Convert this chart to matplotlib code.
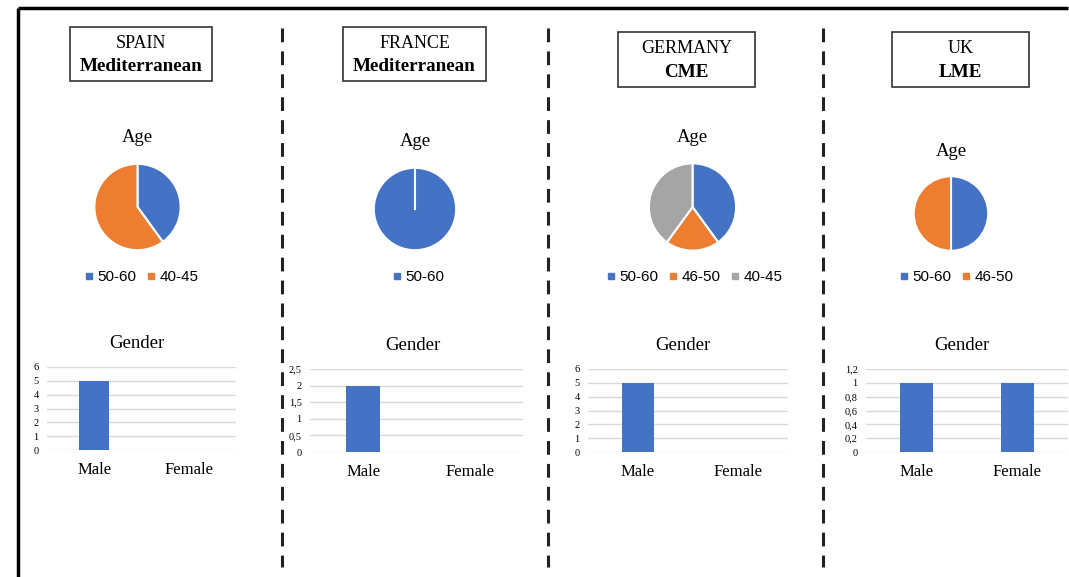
import matplotlib.pyplot as plt
import numpy as np
from matplotlib.patches import Rectangle
from matplotlib.lines import Line2D

# --- data ---
countries = ['SPAIN', 'FRANCE', 'GERMANY', 'UK']
regimes = ['Mediterranean', 'Mediterranean', 'CME', 'LME']
age_labels = [['50-60', '40-45'], ['50-60'], ['50-60', '46-50', '40-45'], ['50-60', '46-50']]
age_counts = [[2, 3], [2], [2, 1, 2], [1, 1]]
gender_labels = ['Male', 'Female']
gender_counts = [[5, 0], [2, 0], [5, 0], [1, 1]]
gender_ticks = [[0, 1, 2, 3, 4, 5, 6],
                [0, 0.5, 1, 1.5, 2, 2.5],
                [0, 1, 2, 3, 4, 5, 6],
                [0, 0.2, 0.4, 0.6, 0.8, 1, 1.2]]

# --- layout (pixels) ---
W, H = 1069, 577
age_colors = {'50-60': '#4472C4', '46-50': '#ED7D31', '40-45': '#ED7D31'}
age_colors_de = ['#4472C4', '#ED7D31', '#A5A5A5']
BLUE = '#4472C4'
SERIF = 'Liberation Serif'
SANS = 'Liberation Sans'

boxes = [(70, 27, 142, 54), (343, 27, 143, 54), (618, 32, 137, 55), (892, 32, 137, 55)]
pies = [(137.5, 207, 44), (415, 209, 42), (692.5, 207, 44.5), (951, 213.5, 38)]
age_title_y = [138, 142, 138, 152]
legend_x = [142, 419, 695, 957]
gender_title = [(137, 343), (413, 346), (683, 346), (962, 346)]
bar_rects = [(47, 367, 236, 450), (310, 369, 523, 452), (588, 369, 788, 452), (866, 369, 1068, 452)]
dividers = [282, 548, 823]

fig = plt.figure(figsize=(W / 100, H / 100), dpi=100)
bg = fig.add_axes([0, 0, 1, 1])
bg.set_xlim(0, W)
bg.set_ylim(H, 0)
bg.axis('off')


def frac(x0, y0, x1, y1):
    return [x0 / W, 1 - y1 / H, (x1 - x0) / W, (y1 - y0) / H]


# outer frame
bg.plot([18, 1068], [8, 8], color='black', lw=2.5, solid_capstyle='butt')
bg.plot([18, 18], [8, H], color='black', lw=2.5, solid_capstyle='butt')
for x in dividers:
    bg.plot([x, x], [28, 567], color='#222222', lw=2.2, ls=(0, (4.5, 3.0)))

for i in range(4):
    # title box
    bx, by, bw, bh = boxes[i]
    bg.add_patch(Rectangle((bx, by), bw, bh, fill=False, ec='#333333', lw=1.2))
    cx = bx + bw / 2
    bg.text(cx, by + bh * 0.3, countries[i], ha='center', va='center',
            family=SERIF, fontsize=13)
    bg.text(cx, by + bh * 0.74, regimes[i], ha='center', va='center',
            family=SERIF, fontsize=13.8, fontweight='bold')

    # pie
    pcx, pcy, r = pies[i]
    bg.text(pcx, age_title_y[i], 'Age', ha='center', va='center', family=SERIF, fontsize=13.5)
    ax = fig.add_axes(frac(pcx - r, pcy - r, pcx + r, pcy + r))
    if i == 2:
        cols = age_colors_de
    else:
        cols = [age_colors[l] for l in age_labels[i]]
    wedges, _ = ax.pie(age_counts[i], colors=cols, startangle=90, counterclock=False,
                       wedgeprops=dict(edgecolor='white', linewidth=1.5))
    if len(age_counts[i]) == 1:
        ax.plot([0, 0], [0, 1], color='white', lw=1.5)
    ax.set_xlim(-1.02, 1.02)
    ax.set_ylim(-1.02, 1.02)
    ax.set_aspect('equal')
    ax.axis('off')

    # legend
    handles = [Line2D([], [], marker='s', ls='', color=c, markersize=5) for c in cols]
    fig.legend(handles, age_labels[i], loc='center', ncol=len(cols),
               bbox_to_anchor=(legend_x[i] / W, 1 - 277 / H), frameon=False,
               prop=dict(family=SANS, size=11), handlelength=0.5, handletextpad=0.3,
               columnspacing=0.7)

    # bar chart
    gx, gy = gender_title[i]
    bg.text(gx, gy, 'Gender', ha='center', va='center', family=SERIF, fontsize=13.5)
    x0, y0, x1, y1 = bar_rects[i]
    bax = fig.add_axes(frac(x0, y0, x1, y1))
    bax.bar(range(len(gender_labels)), gender_counts[i], width=0.32, color=BLUE, zorder=3)
    ticks = gender_ticks[i]
    bax.set_ylim(0, ticks[-1])
    bax.set_xlim(-0.5, 1.5)
    bax.set_yticks(ticks)
    bax.set_yticklabels([('%g' % t).replace('.', ',') for t in ticks], family=SERIF, fontsize=7.5)
    bax.set_xticks(range(len(gender_labels)))
    bax.set_xticklabels(gender_labels, family=SERIF, fontsize=12)
    bax.tick_params(length=0, axis='y', pad=6)
    bax.tick_params(length=0, axis='x', pad=9)
    bax.yaxis.grid(True, color='#d9d9d9', lw=1, zorder=0)
    bax.set_axisbelow(True)
    for s in bax.spines.values():
        s.set_visible(False)

fig.savefig('out.png', dpi=100)
